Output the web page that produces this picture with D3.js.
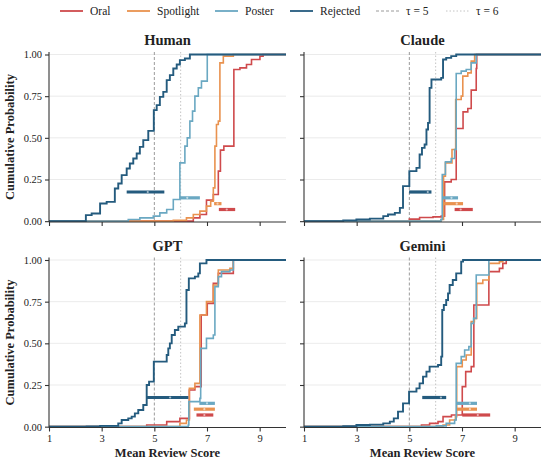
<!DOCTYPE html>
<html>
<head>
<meta charset="utf-8">
<script src="https://cdn.jsdelivr.net/npm/d3@7"></script>
<style>
	body { margin: 0; background: #fff; }
	svg text { font-family: "Liberation Serif", "Times New Roman", serif; fill: #222; }
	.grid line { stroke: #e6e6e6; stroke-width: 0.8; }
	.axis path, .axis line { stroke: #333; stroke-width: 1.1; }
	.axis text { font-size: 10.5px; font-family: "Liberation Serif", "Times New Roman", serif; }
</style>
</head>
<body>
<svg id="chart" width="550" height="464"></svg>
<script>
// categories, in legend / drawing order
var categories = ["Oral", "Spotlight", "Poster", "Rejected"];
var colors = ["#cf4a4c", "#e9924f", "#6aa8c2", "#245b7e"];
var panels = ["Human", "Claude", "GPT", "Gemini"];
var thresholds = [5, 6];
var xTicks = [1, 3, 5, 7, 9];
var yTicks = [0, 0.25, 0.5, 0.75, 1];
var serif = "'Liberation Serif', 'Times New Roman', serif";

// step points of each empirical CDF: [mean score, cumulative probability]
var humanOral = [[6.48,0.02],[6.73,0.04],[6.98,0.126],[7.24,0.16],[7.43,0.30],[7.51,0.426],[7.64,0.45],[8.02,0.91],[8.25,0.92],[8.50,0.94],[8.69,0.97],[9.01,0.99],[9.13,1.0]];
var humanSpotlight = [[5.72,0.005],[6.22,0.02],[6.48,0.04],[6.73,0.06],[6.98,0.09],[7.14,0.12],[7.24,0.20],[7.30,0.45],[7.36,0.58],[7.43,0.60],[7.49,0.95],[7.62,0.99],[8.0,1.0]];
var humanPoster = [[4.01,0.01],[4.45,0.02],[4.96,0.03],[5.21,0.05],[5.47,0.07],[5.72,0.13],[5.97,0.35],[6.16,0.45],[6.25,0.50],[6.35,0.60],[6.45,0.66],[6.54,0.75],[6.67,0.80],[6.79,0.84],[7.01,1.0]];
var humanRejected = [[2.40,0.036],[2.62,0.046],[2.94,0.106],[3.19,0.116],[3.50,0.196],[3.63,0.226],[3.76,0.276],[3.95,0.316],[4.07,0.346],[4.20,0.376],[4.33,0.406],[4.45,0.446],[4.58,0.486],[4.77,0.542],[4.98,0.666],[5.09,0.696],[5.21,0.746],[5.34,0.776],[5.47,0.846],[5.59,0.876],[5.72,0.916],[5.85,0.94],[5.97,0.966],[6.16,0.976],[6.35,1.0]];

var claudeOral = [[5.00,0.012],[5.39,0.022],[5.90,0.026],[6.21,0.03],[6.34,0.236],[6.59,0.25],[6.78,0.556],[7.04,0.656],[7.22,0.676],[7.35,0.786],[7.54,0.916],[7.56,1.0]];
var claudeSpotlight = [[6.20,0.01],[6.30,0.27],[6.37,0.35],[6.62,0.43],[6.76,0.73],[6.97,0.75],[7.03,0.87],[7.22,0.89],[7.35,0.96],[7.48,1.0]];
var claudePoster = [[6.20,0.01],[6.25,0.28],[6.37,0.356],[6.59,0.376],[6.72,0.43],[6.78,0.886],[6.97,0.90],[7.16,0.91],[7.35,0.95],[7.54,1.0]];
var claudeRejected = [[2.49,0.005],[2.99,0.01],[3.50,0.015],[4.01,0.03],[4.19,0.04],[4.45,0.05],[4.64,0.08],[4.76,0.21],[5.00,0.30],[5.27,0.32],[5.39,0.40],[5.48,0.44],[5.58,0.46],[5.65,0.55],[5.71,0.59],[5.77,0.80],[5.84,0.85],[6.21,0.86],[6.28,0.97],[6.40,0.98],[6.59,0.99],[6.78,1.0]];

var gptOral = [[4.71,0.01],[5.47,0.03],[5.97,0.05],[6.33,0.22],[6.54,0.24],[6.78,0.67],[7.01,0.74],[7.24,0.86],[7.43,0.92],[8.0,1.0]];
var gptSpotlight = [[5.97,0.02],[6.22,0.04],[6.33,0.23],[6.54,0.26],[6.73,0.67],[6.98,0.75],[7.24,0.85],[7.43,0.94],[7.87,0.95],[8.0,1.0]];
var gptPoster = [[6.29,0.01],[6.31,0.15],[6.73,0.17],[6.76,0.47],[6.98,0.53],[7.24,0.55],[7.30,0.84],[7.43,0.90],[7.55,0.93],[7.87,0.94],[8.0,1.0]];
var gptRejected = [[2.43,0.002],[2.94,0.005],[3.63,0.02],[3.76,0.04],[4.01,0.05],[4.14,0.06],[4.26,0.08],[4.39,0.10],[4.58,0.13],[4.71,0.25],[4.80,0.27],[4.98,0.39],[5.47,0.43],[5.53,0.47],[5.59,0.50],[5.66,0.55],[5.78,0.58],[5.91,0.60],[6.16,0.62],[6.22,0.82],[6.31,0.89],[6.54,0.90],[6.67,0.92],[6.73,0.98],[6.98,1.0]];

var geminiOral = [[5.46,0.01],[5.77,0.02],[6.09,0.03],[6.28,0.06],[6.60,0.07],[7.01,0.24],[7.14,0.33],[7.35,0.36],[7.45,0.73],[8.02,0.93],[8.42,0.95],[8.55,0.98],[8.68,1.0]];
var geminiSpotlight = [[6.28,0.01],[6.53,0.04],[6.75,0.06],[6.80,0.36],[7.01,0.40],[7.16,0.43],[7.35,0.63],[7.47,0.65],[7.56,0.86],[7.79,0.88],[8.02,0.98],[8.42,0.99],[8.55,1.0]];
var geminiPoster = [[6.03,0.005],[6.40,0.02],[6.72,0.04],[6.78,0.38],[6.97,0.42],[7.10,0.46],[7.26,0.48],[7.35,0.62],[7.44,0.65],[7.54,0.91],[7.78,0.91],[8.02,1.0]];
var geminiRejected = [[2.49,0.003],[2.99,0.01],[3.50,0.012],[4.01,0.02],[4.26,0.03],[4.41,0.05],[4.57,0.09],[4.76,0.14],[4.99,0.21],[5.27,0.23],[5.39,0.26],[5.52,0.30],[5.65,0.33],[5.77,0.36],[6.09,0.37],[6.21,0.42],[6.25,0.70],[6.31,0.73],[6.40,0.76],[6.47,0.80],[6.53,0.85],[6.65,0.88],[6.78,0.92],[6.97,0.99],[7.04,1.0]];

// score strips drawn at a fixed height per class: [low, marked, high]
var stripLevels = [0.07, 0.105, 0.14, 0.175];
var humanStrips = [[7.45,7.75,8.07],[7.27,7.40,7.55],[5.97,6.25,6.73],[3.95,4.75,5.38]];
var claudeStrips = [[6.72,6.95,7.41],[6.30,6.80,7.04],[6.28,6.60,6.85],[4.99,5.70,5.84]];
var gptStrips = [[6.60,6.90,7.24],[6.50,6.90,7.30],[6.71,7.00,7.30],[4.71,5.60,6.29]];
var geminiStrips = [[7.01,7.60,8.07],[6.81,7.30,7.57],[6.78,7.30,7.57],[5.49,6.20,6.40]];

var curves = [
	[humanOral, humanSpotlight, humanPoster, humanRejected],
	[claudeOral, claudeSpotlight, claudePoster, claudeRejected],
	[gptOral, gptSpotlight, gptPoster, gptRejected],
	[geminiOral, geminiSpotlight, geminiPoster, geminiRejected]
];
var strips = [humanStrips, claudeStrips, gptStrips, geminiStrips];

var svg = d3.select("#chart");
var panelW = 237, panelH = 170;
var origins = [[49, 52], [304, 52], [49, 257.5], [304, 257.5]];

var x = d3.scaleLinear().domain([1, 10]).range([0, panelW]);
var y = d3.scaleLinear().domain([-0.005, 1.015]).range([panelH, 0]);

var line = d3.line()
	.x(function(d){ return x(d[0]); })
	.y(function(d){ return y(d[1]); })
	.curve(d3.curveStepAfter);

panels.forEach(function(name, i){
	var g = svg.append("g").attr("transform", "translate(" + origins[i][0] + "," + origins[i][1] + ")");
	var isLeft = i % 2 === 0, isBottom = i >= 2;

	g.append("g").attr("class", "grid")
		.selectAll("line").data(yTicks.slice(1)).enter().append("line")
		.attr("x1", 0).attr("x2", panelW)
		.attr("y1", y).attr("y2", y);

	g.selectAll(".tau").data(thresholds).enter().append("line")
		.attr("x1", x).attr("x2", x)
		.attr("y1", 0).attr("y2", panelH)
		.attr("stroke", function(d, j){ return j === 0 ? "#9a9a9a" : "#c4c4c4"; })
		.attr("stroke-width", 1)
		.attr("stroke-dasharray", function(d, j){ return j === 0 ? "3,2" : "1.5,2"; });

	curves[i].forEach(function(pts, c){
		var full = [[1, 0]].concat(pts, [[10, 1]]);
		g.append("path").datum(full)
			.attr("d", line)
			.attr("fill", "none")
			.attr("stroke", colors[c])
			.attr("stroke-width", c === 3 ? 1.9 : 1.6)
			.attr("stroke-linejoin", "miter");
	});

	strips[i].forEach(function(s, c){
		g.append("line")
			.attr("x1", x(s[0])).attr("x2", x(s[2]))
			.attr("y1", y(stripLevels[c])).attr("y2", y(stripLevels[c]))
			.attr("stroke", colors[c]).attr("stroke-width", 3.2);
		g.append("circle")
			.attr("cx", x(s[1])).attr("cy", y(stripLevels[c])).attr("r", 1.1)
			.attr("fill", "#fff").attr("opacity", 0.6);
	});

	var xAxis = d3.axisBottom(x).tickValues(xTicks).tickSize(4).tickPadding(3);
	if(!isBottom) xAxis.tickFormat("");
	g.append("g").attr("class", "axis")
		.attr("transform", "translate(0," + panelH + ")")
		.call(xAxis)
		.attr("font-family", serif).attr("font-size", 10.5)
		.call(function(a){ a.select(".domain").attr("d", "M0,0H" + panelW); });

	var yAxis = d3.axisLeft(y).tickValues(yTicks).tickSize(4).tickPadding(3).tickFormat(d3.format(".2f"));
	if(!isLeft) yAxis.tickFormat("");
	g.append("g").attr("class", "axis")
		.call(yAxis)
		.attr("font-family", serif).attr("font-size", 10.5)
		.call(function(a){ a.select(".domain").attr("d", "M0," + panelH + "V0"); });

	g.selectAll(".axis text").style("font-family", serif).attr("fill", "#222");

	g.append("text")
		.attr("x", panelW / 2).attr("y", -7)
		.attr("text-anchor", "middle")
		.style("font-size", "14.5px").style("font-weight", "bold")
		.text(name);

	if(isLeft){
		g.append("text")
			.attr("transform", "translate(" + (-35) + "," + (panelH / 2) + ") rotate(-90)")
			.attr("text-anchor", "middle")
			.style("font-size", "12.5px").style("font-weight", "bold")
			.text("Cumulative Probability");
	}
	if(isBottom){
		g.append("text")
			.attr("x", panelW / 2).attr("y", panelH + 29)
			.attr("text-anchor", "middle")
			.style("font-size", "12.5px").style("font-weight", "bold")
			.text("Mean Review Score");
	}
});

// legend
var legendItems = categories.map(function(c, i){ return {label: c, color: colors[i], dash: null, w: 1.8}; })
	.concat([
		{label: "\u03c4 = 5", color: "#9a9a9a", dash: "3,2", w: 1},
		{label: "\u03c4 = 6", color: "#c4c4c4", dash: "1.5,2", w: 1}
	]);
var legendX = [60, 127, 215, 290, 376, 446];
var legend = svg.append("g").attr("transform", "translate(0,11)");
legendItems.forEach(function(d, i){
	legend.append("line")
		.attr("x1", legendX[i]).attr("x2", legendX[i] + 23)
		.attr("stroke", d.color).attr("stroke-width", d.w)
		.attr("stroke-dasharray", d.dash);
	legend.append("text")
		.attr("x", legendX[i] + 30).attr("y", 4)
		.style("font-size", "11.5px")
		.text(d.label);
});
</script>
</body>
</html>
